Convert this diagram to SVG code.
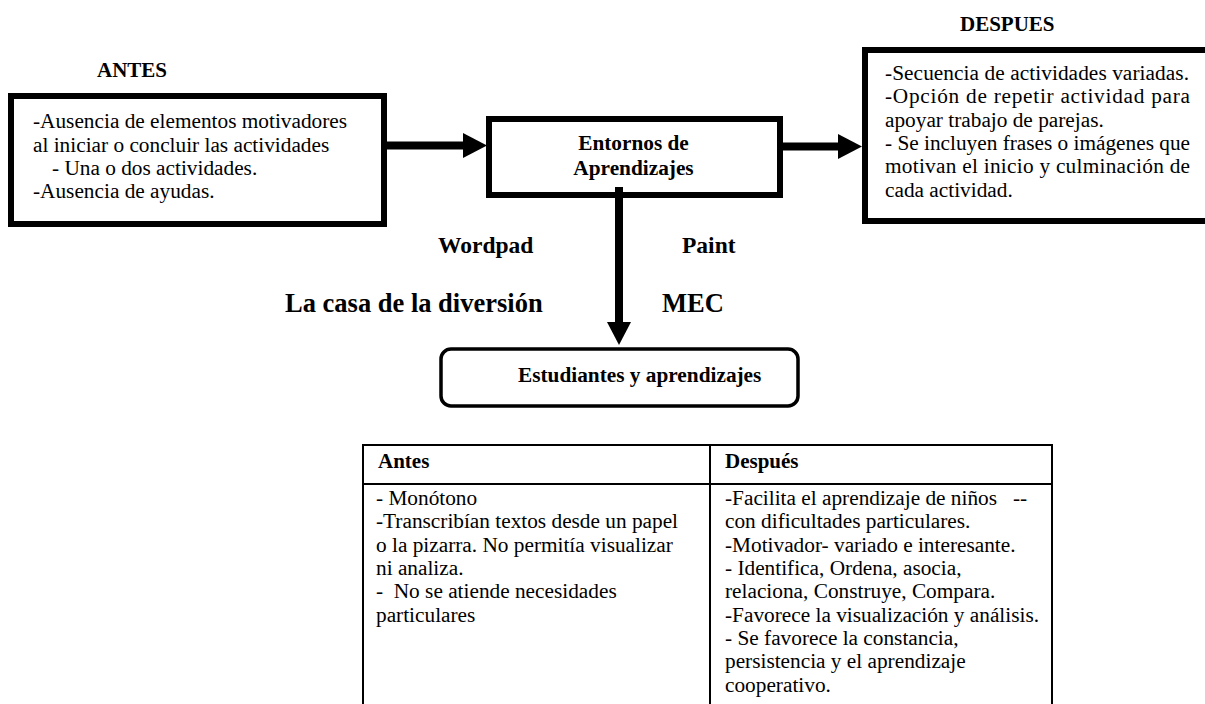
<svg xmlns="http://www.w3.org/2000/svg" width="1205" height="704" viewBox="0 0 1205 704" font-family="'Liberation Serif', serif">
<style>
text{font-family:'Liberation Serif',serif;fill:#000}
.b{font-weight:bold}
.t{font-size:21.3px}
.tb{font-size:21px}
.box{fill:#fff;stroke:#000;stroke-width:6}
.line{stroke:#000;stroke-width:8;fill:none}
.tbl{stroke:#000;stroke-width:2;fill:none}
</style>
<rect width="1205" height="704" fill="#fff"/>
<g id="labels">
<text class="b tb" x="97" y="77">ANTES</text>
<text class="b tb" x="960" y="31">DESPUES</text>
<text class="b" style="font-size:23.5px" x="438" y="253">Wordpad</text>
<text class="b" style="font-size:23.5px" x="682" y="253">Paint</text>
<text class="b" style="font-size:26.5px" x="285" y="312">La casa de la diversión</text>
<text class="b" style="font-size:26.5px" x="662" y="312">MEC</text>
</g>
<g id="node-antes">
<rect class="box" x="11" y="96" width="373" height="128"/>
<text class="t" x="33" y="128">-Ausencia de elementos motivadores</text>
<text class="t" x="33" y="152">al iniciar o concluir las actividades</text>
<text class="t" x="52" y="175">- Una o dos actividades.</text>
<text class="t" x="33" y="198">-Ausencia de ayudas.</text>
</g>
<g id="node-entornos">
<rect class="box" x="489" y="119" width="291" height="76"/>
<text class="b t" x="633.5" y="150" text-anchor="middle">Entornos de</text>
<text class="b t" x="633.5" y="175" text-anchor="middle">Aprendizajes</text>
</g>
<g id="node-despues">
<rect class="box" x="865" y="50" width="360" height="171"/>
<text class="t" x="885" y="80" textLength="304" lengthAdjust="spacing">-Secuencia de actividades variadas.</text>
<text class="t" x="885" y="103" textLength="305" lengthAdjust="spacing">-Opción de repetir actividad para</text>
<text class="t" x="885" y="127">apoyar trabajo de parejas.</text>
<text class="t" x="885" y="150" textLength="305" lengthAdjust="spacing">- Se incluyen frases o imágenes que</text>
<text class="t" x="885" y="173" textLength="305" lengthAdjust="spacing">motivan el inicio y culminación de</text>
<text class="t" x="885" y="197">cada actividad.</text>
</g>
<g id="node-estudiantes">
<rect x="441" y="349" width="357" height="57" rx="10" ry="10" fill="#fff" stroke="#000" stroke-width="3.5"/>
<text class="b t" x="518" y="382">Estudiantes y aprendizajes</text>
</g>
<g id="connectors">
<line class="line" x1="384" y1="145.5" x2="464" y2="145.5"/>
<polygon points="463,133 487,145.5 463,158"/>
<line class="line" x1="780" y1="146.5" x2="839" y2="146.5"/>
<polygon points="838,134 862,146.5 838,159"/>
<line class="line" x1="619" y1="187" x2="619" y2="323"/>
<polygon points="607,322 619,345 631,322"/>
</g>
<g id="table">
<polyline class="tbl" points="363,710 363,445 1052,445 1052,710"/>
<line class="tbl" x1="363" y1="484" x2="1052" y2="484"/>
<line class="tbl" x1="710" y1="445" x2="710" y2="710"/>
<text class="b tb" x="378" y="468">Antes</text>
<text class="b tb" x="725" y="468">Después</text>
<g class="cell">
<text class="t" x="376" y="505">- Monótono</text>
<text class="t" x="376" y="528">-Transcribían textos desde un papel</text>
<text class="t" x="376" y="552">o la pizarra. No permitía visualizar</text>
<text class="t" x="376" y="575">ni analiza.</text>
<text class="t" x="376" y="598" xml:space="preserve">-  No se atiende necesidades</text>
<text class="t" x="376" y="622">particulares</text>
</g>
<g class="cell">
<text class="t" x="725" y="505" xml:space="preserve">-Facilita el aprendizaje de niños   --</text>
<text class="t" x="725" y="528">con dificultades particulares.</text>
<text class="t" x="725" y="552">-Motivador- variado e interesante.</text>
<text class="t" x="725" y="575">- Identifica, Ordena, asocia,</text>
<text class="t" x="725" y="598">relaciona, Construye, Compara.</text>
<text class="t" x="725" y="622">-Favorece la visualización y análisis.</text>
<text class="t" x="725" y="645">- Se favorece la constancia,</text>
<text class="t" x="725" y="668">persistencia y el aprendizaje</text>
<text class="t" x="725" y="692">cooperativo.</text>
</g>
</g>
</svg>
